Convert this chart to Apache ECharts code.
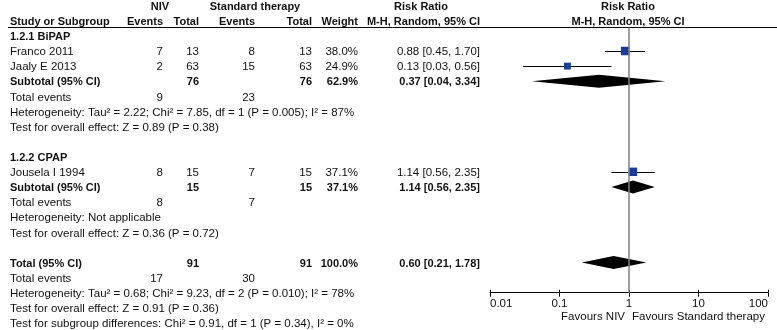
<!DOCTYPE html>
<html>
<head>
<meta charset="utf-8">
<script src="https://cdn.jsdelivr.net/npm/echarts@6/dist/echarts.min.js"></script>
<style>
html, body { margin: 0; padding: 0; background: #fff; }
#forestChart { width: 777px; height: 330px; }
</style>
</head>
<body>
<div id="forestChart"></div>
<script>
// studies
const studyNames = ["Franco 2011", "Jaaly E 2013", "Jousela I 1994"];
const studyGroup = [0, 0, 1];
const nivEvents = [7, 2, 8];
const nivTotal = [13, 63, 15];
const stdEvents = [8, 15, 7];
const stdTotal = [13, 63, 15];
const studyWeight = [38.0, 24.9, 37.1];
const studyRR = [0.88, 0.13, 1.14];
const studyLow = [0.45, 0.03, 0.56];
const studyHigh = [1.70, 0.56, 2.35];

// subgroups + overall
const groupNames = ["1.2.1 BiPAP", "1.2.2 CPAP"];
const pooledNames = ["Subtotal (95% CI)", "Subtotal (95% CI)", "Total (95% CI)"];
const pooledNivTotal = [76, 15, 91];
const pooledStdTotal = [76, 15, 91];
const pooledWeight = [62.9, 37.1, 100.0];
const pooledRR = [0.37, 1.14, 0.60];
const pooledLow = [0.04, 0.56, 0.21];
const pooledHigh = [3.34, 2.35, 1.78];
const totalEventsNiv = [9, 8, 17];
const totalEventsStd = [23, 7, 30];
const hetTexts = [
  "Heterogeneity: Tau² = 2.22; Chi² = 7.85, df = 1 (P = 0.005); I² = 87%",
  "Heterogeneity: Not applicable",
  "Heterogeneity: Tau² = 0.68; Chi² = 9.23, df = 2 (P = 0.010); I² = 78%",
];
const effectTexts = [
  "Test for overall effect: Z = 0.89 (P = 0.38)",
  "Test for overall effect: Z = 0.36 (P = 0.72)",
  "Test for overall effect: Z = 0.91 (P = 0.36)",
];
const subgroupText = "Test for subgroup differences: Chi² = 0.91, df = 1 (P = 0.34), I² = 0%";
const tickLabels = ["0.01", "0.1", "1", "10", "100"];
const favourLabels = ["Favours NIV", "Favours Standard therapy"];

// row layout (table lines)
const groupRows = [2, 10];
const studyRows = [3, 4, 11];
const pooledRows = [5, 12, 17];
const totalEventRows = [6, 13, 18];
const hetRows = [7, 14, 19];
const effectRows = [8, 15, 20];
const subgroupRow = 21;

const ROW0_Y = 6.9;
const ROW_H = 15.1;
const rowAt = (px) => (px - ROW0_Y) / ROW_H;
const FONT = '"Liberation Sans", Arial, sans-serif';
const REG_FONT = "11.5px " + FONT;
const BOLD_FONT = "bold 11px " + FONT;
const TEXT_COLOR = "#111";
const colX = {
  study: 10, nivEvents: 163, nivTotal: 199, stdEvents: 255, stdTotal: 312,
  weight: 358, rr: 480, nivHead: 160, stdHead: 255, rrHead: 421, plotHead: 628,
};

const fmt2 = (v) => v.toFixed(2);
const rrText = (r, l, h) => fmt2(r) + " [" + fmt2(l) + ", " + fmt2(h) + "]";

const cells = [];
function cell(row, col, text, bold, align) {
  cells.push({ row, col, text: String(text), bold: !!bold, align: align || "right" });
}

// headers
cell(0, "nivHead", "NIV", true, "center");
cell(0, "stdHead", "Standard therapy", true, "center");
cell(0, "rrHead", "Risk Ratio", true, "center");
cell(0, "plotHead", "Risk Ratio", true, "center");
cell(1, "study", "Study or Subgroup", true, "left");
cell(1, "nivEvents", "Events", true);
cell(1, "nivTotal", "Total", true);
cell(1, "stdEvents", "Events", true);
cell(1, "stdTotal", "Total", true);
cell(1, "weight", "Weight", true);
cell(1, "rr", "M-H, Random, 95% CI", true);
cell(1, "plotHead", "M-H, Random, 95% CI", true, "center");

groupNames.forEach((g, i) => cell(groupRows[i], "study", g, true, "left"));
studyNames.forEach((s, i) => {
  const r = studyRows[i];
  cell(r, "study", s, false, "left");
  cell(r, "nivEvents", nivEvents[i]);
  cell(r, "nivTotal", nivTotal[i]);
  cell(r, "stdEvents", stdEvents[i]);
  cell(r, "stdTotal", stdTotal[i]);
  cell(r, "weight", studyWeight[i].toFixed(1) + "%");
  cell(r, "rr", rrText(studyRR[i], studyLow[i], studyHigh[i]));
});
pooledNames.forEach((p, i) => {
  const r = pooledRows[i];
  cell(r, "study", p, true, "left");
  cell(r, "nivTotal", pooledNivTotal[i], true);
  cell(r, "stdTotal", pooledStdTotal[i], true);
  cell(r, "weight", pooledWeight[i].toFixed(1) + "%", true);
  cell(r, "rr", rrText(pooledRR[i], pooledLow[i], pooledHigh[i]), true);
  cell(totalEventRows[i], "study", "Total events", false, "left");
  cell(totalEventRows[i], "nivEvents", totalEventsNiv[i]);
  cell(totalEventRows[i], "stdEvents", totalEventsStd[i]);
  cell(hetRows[i], "study", hetTexts[i], false, "left");
  cell(effectRows[i], "study", effectTexts[i], false, "left");
});
cell(subgroupRow, "study", subgroupText, false, "left");

// forest marks
const studyMarks = studyNames.map((s, i) => [studyRR[i], studyLow[i], studyHigh[i], studyRows[i], studyWeight[i], 0]);
const pooledMarks = pooledNames.map((p, i) => [pooledRR[i], pooledLow[i], pooledHigh[i], pooledRows[i], pooledWeight[i], 1]);

const PLOT_TOP = 27.5;
const PLOT_AXIS_Y = 292.7;
const MARK_LIFT = 1.2;
const SQUARE_K = 1.38;
const DIAMOND_HALF = 6.5;

const chartDom = document.getElementById("forestChart");
const myChart = echarts.init(chartDom);

const option = {
  animation: false,
  grid: [
    { left: 0, top: 0, width: 777, height: 330 },
    { left: 490, top: PLOT_TOP, width: 278, height: PLOT_AXIS_Y - PLOT_TOP },
  ],
  xAxis: [
    { type: "value", gridIndex: 0, min: 0, max: 1, show: false },
    {
      type: "log", gridIndex: 1, logBase: 10, min: 0.01, max: 100, position: "bottom",
      axisLine: { show: true, lineStyle: { color: "#000", width: 1 } },
      axisTick: { show: true, length: 4, lineStyle: { color: "#000", width: 1 } },
      minorTick: { show: false },
      splitLine: { show: false },
      axisLabel: {
        show: true, color: TEXT_COLOR, fontSize: 11.5, fontFamily: FONT, margin: 5,
        alignMinLabel: "left", alignMaxLabel: "right",
        formatter: (v) => {
          const hit = tickLabels.find((l) => Math.abs(Math.log10(parseFloat(l)) - Math.log10(v)) < 1e-6);
          return hit || "";
        },
      },
    },
    {
      type: "log", gridIndex: 1, logBase: 10, min: 0.01, max: 100, position: "bottom",
      axisLine: { show: false },
      axisTick: { show: true, inside: true, length: 3, lineStyle: { color: "#000", width: 1 } },
      axisLabel: { show: false },
      splitLine: { show: false },
    },
  ],
  yAxis: [
    { type: "value", gridIndex: 0, inverse: true, min: rowAt(0), max: rowAt(330), show: false },
    { type: "value", gridIndex: 1, inverse: true, min: rowAt(PLOT_TOP), max: rowAt(PLOT_AXIS_Y), show: false },
  ],
  series: [
    {
      // header rule
      type: "custom", xAxisIndex: 0, yAxisIndex: 0, silent: true,
      data: [[0, rowAt(27.5)]],
      renderItem: (params, api) => {
        const y = Math.round(api.coord([0, api.value(1)])[1]) + 0.5;
        return { type: "line", shape: { x1: 8, y1: y, x2: 777, y2: y }, style: { stroke: "#000", lineWidth: 1 } };
      },
    },
    {
      // table text
      type: "custom", xAxisIndex: 0, yAxisIndex: 0, silent: true,
      data: cells.map((c) => [0, c.row]),
      renderItem: (params, api) => {
        const c = cells[params.dataIndex];
        const y = api.coord([0, api.value(1)])[1];
        return {
          type: "text", x: colX[c.col], y: y,
          style: {
            text: c.text, fill: TEXT_COLOR, align: c.align, verticalAlign: "middle",
            font: c.bold ? BOLD_FONT : REG_FONT,
          },
        };
      },
    },
    {
      // line of no effect
      type: "line", xAxisIndex: 1, yAxisIndex: 1, silent: true, symbol: "none",
      lineStyle: { color: "#808080", width: 1.5 },
      data: [[1, rowAt(PLOT_TOP)], [1, rowAt(PLOT_AXIS_Y)]],
    },
    {
      // squares, CIs and diamonds
      type: "custom", xAxisIndex: 1, yAxisIndex: 1, silent: true, clip: false,
      data: studyMarks.concat(pooledMarks),
      renderItem: (params, api) => {
        const row = api.value(3);
        const c = api.coord([api.value(0), row]);
        const xl = api.coord([api.value(1), row])[0];
        const xh = api.coord([api.value(2), row])[0];
        const y = c[1] - MARK_LIFT;
        if (api.value(5) === 1) {
          return {
            type: "polygon",
            shape: { points: [[xl, y], [c[0], y - DIAMOND_HALF], [xh, y], [c[0], y + DIAMOND_HALF]] },
            style: { fill: "#000" },
          };
        }
        const s = SQUARE_K * Math.sqrt(api.value(4));
        const yl = Math.round(y) + 0.5;
        return {
          type: "group",
          children: [
            { type: "line", shape: { x1: xl, y1: yl, x2: xh, y2: yl }, style: { stroke: "#000", lineWidth: 1 } },
            { type: "rect", shape: { x: c[0] - s / 2, y: y - s / 2, width: s, height: s }, style: { fill: "#1a3c96" } },
          ],
        };
      },
    },
    {
      // favours labels
      type: "custom", xAxisIndex: 1, yAxisIndex: 1, silent: true, clip: false,
      data: [[1, rowAt(317)]],
      renderItem: (params, api) => {
        const p = api.coord([api.value(0), api.value(1)]);
        return {
          type: "group",
          children: [
            { type: "text", x: p[0] - 4, y: p[1], style: { text: favourLabels[0], fill: TEXT_COLOR, align: "right", verticalAlign: "middle", font: REG_FONT } },
            { type: "text", x: p[0] + 3, y: p[1], style: { text: favourLabels[1], fill: TEXT_COLOR, align: "left", verticalAlign: "middle", font: REG_FONT } },
          ],
        };
      },
    },
  ],
};
option && myChart.setOption(option);
</script>
</body>
</html>
